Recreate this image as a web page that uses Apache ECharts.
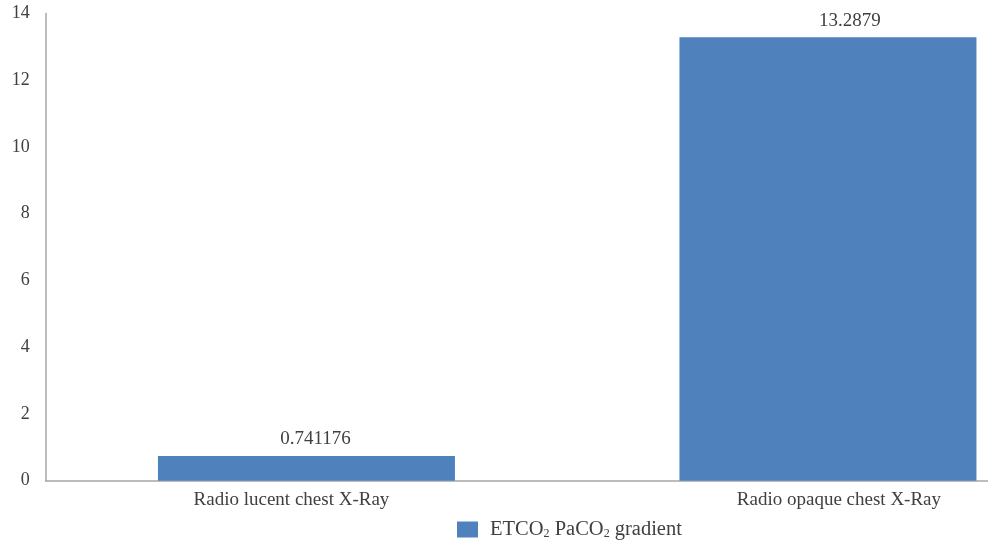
<!DOCTYPE html>
<html>
<head>
<meta charset="utf-8">
<script src="https://cdn.jsdelivr.net/npm/echarts@6/dist/echarts.min.js"></script>
<style>html,body{margin:0;padding:0;background:#fff}#c{width:988px;height:540px}</style>
</head>
<body>
<div id="c"></div>
<script>
const categories = ['Radio lucent chest X-Ray', 'Radio opaque chest X-Ray'];
const gradientValues = [0.741176, 13.2879];
const valueLabels = ['0.741176', '13.2879'];
const yTicks = [0, 2, 4, 6, 8, 10, 12, 14];

const FONT = '"Liberation Serif", serif';
const TXT = '#404040';
const labelShift = [-15, 11];
const valueShift = [9, 22];

const chart = echarts.init(document.getElementById('c'));
chart.setOption({
  animation: false,
  grid: { left: 45.7, width: 1043, top: 13.5, bottom: 59.3, containLabel: false, outerBoundsMode: 'none' },
  legend: {
    data: ['ETCO2 PaCO2 gradient'],
    left: 452, top: 514,
    itemWidth: 21, itemHeight: 16, itemGap: 10,
    icon: 'rect',
    formatter: () => '{m|ETCO}{s|2}{m| PaCO}{s|2}{m| gradient}',
    textStyle: {
      padding: [0, 0, 0, 7],
      rich: {
        m: { fontFamily: FONT, fontSize: 20.5, color: TXT },
        s: { fontFamily: FONT, fontSize: 12, color: TXT, verticalAlign: 'bottom', padding: [8, 0, 0, 0] }
      }
    }
  },
  xAxis: {
    type: 'category',
    data: categories,
    axisLine: { lineStyle: { color: '#A6A6A6', width: 1.5 } },
    axisTick: { show: false },
    axisLabel: {
      margin: 10,
      interval: 0,
      hideOverlap: false,
      formatter: (v, i) => '{l' + i + '|' + v + '}',
      rich: {
        l0: { fontFamily: FONT, fontSize: 19, color: TXT, padding: [0, -labelShift[0] * 2, 0, 0] },
        l1: { fontFamily: FONT, fontSize: 19, color: TXT, padding: [0, 0, 0, labelShift[1] * 2] }
      }
    }
  },
  yAxis: {
    type: 'value',
    min: yTicks[0], max: yTicks[yTicks.length - 1], interval: 2,
    axisLine: { show: true, lineStyle: { color: '#A6A6A6', width: 1.5 } },
    axisTick: { show: false },
    splitLine: { show: false },
    axisLabel: { margin: 16, fontFamily: FONT, fontSize: 18, color: TXT, padding: [3, 0, 0, 0] }
  },
  series: [{
    name: 'ETCO2 PaCO2 gradient',
    type: 'bar',
    barWidth: 297,
    itemStyle: { color: '#4F81BD' },
    data: gradientValues.map((v, i) => ({
      value: v,
      label: { offset: [valueShift[i], 0] }
    })),
    label: {
      show: true, position: 'top', distance: 7,
      fontFamily: FONT, fontSize: 19, color: TXT,
      formatter: p => valueLabels[p.dataIndex]
    }
  }]
});
</script>
</body>
</html>
